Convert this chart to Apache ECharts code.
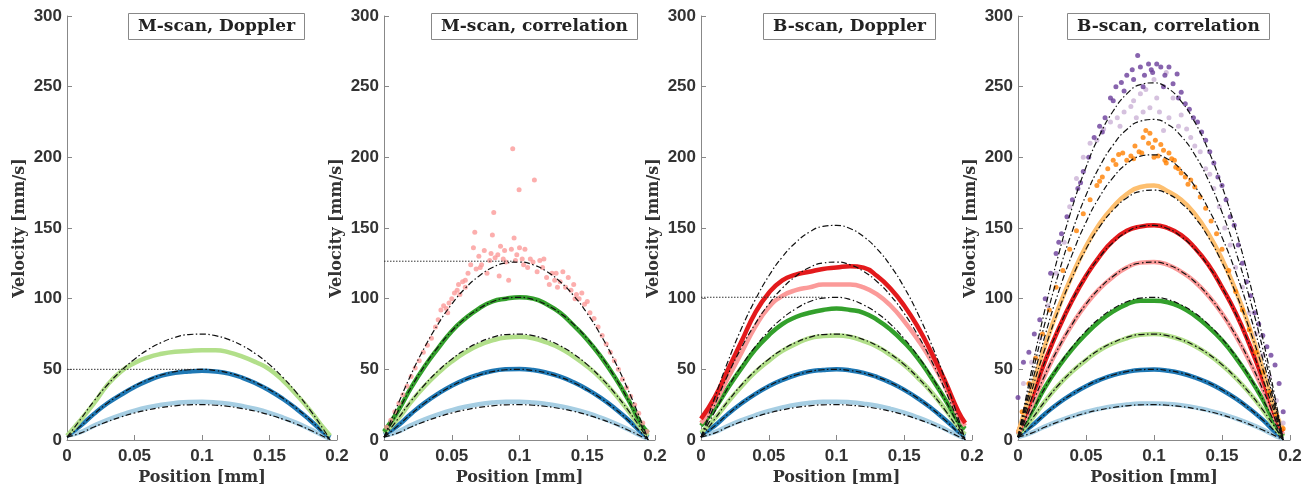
<!DOCTYPE html>
<html><head><meta charset="utf-8">
<script src="https://cdn.jsdelivr.net/npm/echarts@6/dist/echarts.min.js"></script>
<style>html,body{margin:0;padding:0;background:#fff}#c{width:1316px;height:495px}</style>
</head><body><div id="c"></div>
<script>
// ---------- data ----------
const panelTitles = ['M-scan, Doppler', 'M-scan, correlation', 'B-scan, Doppler', 'B-scan, correlation'];
const xs = [0,0.01,0.02,0.03,0.04,0.05,0.06,0.07,0.08,0.09,0.1,0.11,0.12,0.13,0.14,0.15,0.16,0.17,0.18,0.19,0.195];

// theoretical profiles (dash-dot)
const T25  = [2,4.9,9.2,13.0,16.3,19.1,21.3,23.0,24.2,24.9,25.0,24.6,23.7,22.2,20.3,17.8,14.7,11.2,7.1,2.5,0];
const T50  = [2,9.8,18.4,26.1,32.6,38.2,42.6,46.0,48.4,49.7,50.0,49.2,47.4,44.5,40.5,35.5,29.5,22.4,14.2,5.0,0];
const T75  = [2,14.6,27.6,39.1,48.9,57.2,63.9,69.0,72.6,74.6,74.9,73.8,71.0,66.7,60.8,53.3,44.2,33.5,21.3,7.5,0];
const T101 = [2,19.7,37.2,52.6,65.9,77.1,86.1,92.9,97.8,100.4,100.9,99.4,95.6,89.8,81.8,71.7,59.5,45.1,28.7,10.1,0];
const T126 = [2,24.6,46.4,65.6,82.2,96.1,107.4,115.9,122.0,125.2,125.9,124.0,119.3,112.0,102.1,89.5,74.2,56.3,35.8,12.6,0];
const T152 = [2,29.6,55.9,79.2,99.1,116.0,129.5,139.8,147.1,151.1,151.8,149.6,143.9,135.1,123.1,107.9,89.5,67.9,43.2,15.2,0];
const T177 = [2,34.5,65.1,92.2,115.4,135.1,150.8,162.8,171.3,175.9,176.8,174.2,167.6,157.4,143.4,125.7,104.3,79.1,50.3,17.7,0];
const T202 = [2,39.4,74.3,105.2,131.7,154.1,172.1,185.8,195.5,200.8,201.8,198.8,191.3,179.6,163.6,143.4,119.0,90.3,57.4,20.2,0];
const T227 = [2,44.3,83.5,118.3,148.0,173.2,193.4,208.8,219.7,225.6,226.8,223.4,215.0,201.8,183.9,161.2,133.7,101.5,64.5,22.7,0];
const T253 = [2,49.3,93.1,131.8,165.0,193.0,215.6,232.8,244.9,251.5,252.7,249.0,239.6,224.9,204.9,179.6,149.0,113.1,71.9,25.3,0];

// saturation limits (dotted)
const satLimit = [50, 126.5, 101, null];
const satEndX  = [0.093, 0.097, 0.091, null];

// panel 1: M-scan, Doppler
const p1LightBlue  = [3,5.6,10.2,14.3,17.8,20.8,23.2,25.0,26.2,26.9,27.0,26.6,25.6,24.0,21.9,19.2,15.9,12.1,7.7,2.9,1];
const p1Blue       = [3,10,18.5,26,32,37.5,42,45.5,47.5,48.5,49,48.5,47,44,40,35,29,22,14,5.5,2];
const p1LightGreen = [3,14,26,39,48.5,54.5,58.5,61,62.5,63,63.5,63.5,62,59,55,50,42,32,21,8.5,3];

// panel 2: M-scan, correlation
const p2LightBlue  = [3,5.8,10.5,14.6,18.1,21.1,23.5,25.3,26.5,27.1,27.1,26.6,25.5,23.9,21.8,19.1,15.8,12,7.6,2.8,1];
const p2Blue       = [4,10,18.6,26.3,32.8,38.4,42.9,46.3,48.8,50,50.3,49.5,47.6,44.8,40.8,35.8,29.8,22.7,14.5,5.5,2];
const p2LightGreen = [5,14.5,27,38,47.5,55.5,62,67,70.5,72.5,73,72,69,65,59,52,43.5,33,21,8,3];
const p2Green      = [6,20,37,52,65,77,86,93,98,100,101,100,96,90,81,71,59,45,29,11,5];
const p2Pink = [[0.002,9],[0.005,14],[0.008,20],[0.011,26],[0.014,32],[0.017,38],[0.02,45],[0.023,51],[0.026,56],[0.029,62],
  [0.032,67],[0.035,72],[0.038,80],[0.04,85],[0.042,92],[0.044,95],[0.046,93],[0.048,97],[0.05,100],[0.052,104],
  [0.054,106],[0.056,103],[0.058,112],[0.06,113],[0.062,118],[0.064,124],[0.066,136],[0.067,147],[0.068,121],[0.07,130],
  [0.072,124],[0.074,134],[0.076,118],[0.078,127],[0.08,145],[0.081,161],[0.082,129],[0.084,131],[0.085,116],[0.086,137],
  [0.088,128],[0.09,126],[0.092,113],[0.094,135],[0.095,206],[0.096,143],[0.097,127],[0.098,131],[0.0997,177],[0.1,136],
  [0.102,128],[0.104,135],[0.106,122],[0.108,128],[0.11,126],[0.111,184],[0.113,119],[0.115,127],[0.117,122],[0.12,115],
  [0.122,110],[0.124,118],[0.126,113],[0.128,108],[0.13,112],[0.132,119],[0.134,108],[0.136,115],[0.138,106],[0.14,110],
  [0.142,103],[0.144,100],[0.146,104],[0.148,96],[0.15,98],[0.152,90],[0.155,86],[0.158,80],[0.161,74],[0.164,68],
  [0.167,62],[0.17,56],[0.173,50],[0.176,43],[0.179,37],[0.182,31],[0.185,25],[0.188,19],[0.191,12],[0.194,6],
  [0.06,108],[0.071,122],[0.079,132],[0.089,134],[0.103,124],[0.118,128],[0.127,118],[0.141,100],[0.047,90],[0.055,110]];

// panel 3: B-scan, Doppler
const p3LightBlue  = [3,5.5,10,14,17.5,20.5,23,25,26.3,27,27.1,26.7,25.7,24.2,22,19.3,16,12.2,7.8,3,1];
const p3Blue       = [4,10,18.5,26,32.5,38,42.5,46,48.5,49.5,50,49.3,47.5,44.5,40.5,35.5,29.5,22.5,14.5,6,3];
const p3LightGreen = [5,15,27,38,48,56,63,68,72,73.5,74,73,70,66,60,53,44,34,22,9,4];
const p3Green      = [10,22,37,51,64,74,82,87,90,92,93,92,90,85,78,69,58,44,29,13,8];
const p3Pink       = [12,26,44,62,80,94,102,106,108,110,110,110,108,103,95,84,71,56,38,17,10];
const p3Red        = [15,30,50,70,90,104,113,117,119,121,122,123,122,116,107,95,80,62,42,20,12];

// panel 4: B-scan, correlation
const p4LightBlue   = [2,5.2,9.6,13.5,16.9,19.8,22.1,23.9,25.1,25.8,25.9,25.5,24.6,23.1,21,18.4,15.3,11.6,7.4,2.6,1];
const p4Blue        = [3,10,18.6,26.2,32.6,38.1,42.5,45.9,48.2,49.5,49.8,49,47.2,44.3,40.4,35.4,29.4,22.3,14.2,5,2];
const p4LightGreen  = [3,14.6,27.6,39,48.5,56.5,63.5,68.5,72,74.5,75,73.8,71,66.5,60.5,53,44,33.5,21.3,7.5,2];
const p4Green       = [4,20,37.5,52,64.5,75,84,91,96,98.5,98.5,97.5,94,88,80,70.5,58.5,44.5,28.5,10,3];
const p4Pink        = [4,24.6,46.4,65.6,82,96,107,115.5,122,125.5,126,124,119,112,102,89.5,74,56,36,13,4];
const p4Red         = [5,30,56,79,99,116,130,141,148,151,152,150,145,136,124,108,90,68,43,15,6];
const p4LightOrange = [5,36,67,94,117,137,153,165,174,179,180,176,170,160,146,128,106,80,50,18,8];
const p4Orange = [[0.003,20],[0.008,40],[0.013,58],[0.018,75],[0.023,92],[0.028,108],[0.033,120],[0.038,135],[0.043,148],[0.048,160],
  [0.053,170],[0.058,180],[0.062,186],[0.066,192],[0.07,198],[0.074,202],[0.077,203],[0.08,198],[0.083,201],[0.086,208],
  [0.089,204],[0.092,214],[0.094,219],[0.096,210],[0.097,217],[0.099,207],[0.101,212],[0.103,201],[0.105,209],[0.107,205],
  [0.109,196],[0.111,203],[0.113,199],[0.115,198],[0.118,192],[0.12,189],[0.123,186],[0.127,184],[0.13,179],[0.134,172],
  [0.138,164],[0.142,155],[0.146,146],[0.15,135],[0.155,120],[0.16,105],[0.165,92],[0.17,78],[0.175,62],[0.18,48],
  [0.185,34],[0.19,18],[0.195,8],[0.06,183],[0.072,195],[0.085,199],[0.091,203],[0.1,200],[0.108,198],[0.116,193],[0.125,181]];
const p4LightPurple = [[0.004,40],[0.01,55],[0.016,72],[0.022,95],[0.028,118],[0.034,140],[0.038,165],[0.043,185],[0.048,200],[0.053,210],
  [0.058,212],[0.063,220],[0.068,225],[0.073,228],[0.078,232],[0.083,236],[0.087,228],[0.09,245],[0.094,248],[0.097,235],
  [0.1,255],[0.104,232],[0.107,219],[0.109,260],[0.111,228],[0.114,242],[0.118,222],[0.12,230],[0.124,220],[0.127,214],
  [0.13,208],[0.134,204],[0.138,192],[0.141,188],[0.144,178],[0.148,165],[0.152,150],[0.156,138],[0.16,122],[0.165,108],
  [0.17,90],[0.175,75],[0.18,60],[0.185,45],[0.19,28],[0.195,12],[0.075,222],[0.085,240],[0.092,232],[0.102,242]];
const p4Purple = [[0.0,30],[0.004,55],[0.008,62],[0.012,75],[0.016,85],[0.02,100],[0.024,118],[0.028,132],[0.032,146],[0.036,158],
  [0.04,170],[0.044,178],[0.048,190],[0.052,200],[0.056,214],[0.06,222],[0.064,228],[0.068,242],[0.072,250],[0.076,253],
  [0.08,258],[0.084,262],[0.088,272],[0.09,264],[0.093,258],[0.096,266],[0.099,260],[0.102,266],[0.105,264],[0.108,258],
  [0.111,264],[0.114,252],[0.117,259],[0.12,246],[0.123,238],[0.126,234],[0.129,228],[0.132,225],[0.135,218],[0.138,212],
  [0.141,204],[0.144,196],[0.147,186],[0.15,180],[0.153,170],[0.156,158],[0.159,152],[0.162,138],[0.165,125],[0.168,112],
  [0.171,102],[0.174,90],[0.177,82],[0.18,74],[0.183,66],[0.186,60],[0.189,53],[0.192,40],[0.195,20],
  [0.085,255],[0.092,250],[0.098,262],[0.107,250],[0.118,242],[0.078,247],[0.07,240],[0.062,218],[0.046,182],[0.03,140]];

// ---------- colours ----------
const C = {lightBlue:'#a6cee3', blue:'#1f78b4', lightGreen:'#b2df8a', green:'#33a02c', pink:'#fb9a99',
  red:'#e31a1c', lightOrange:'#fdbf6f', orange:'#ff7f00', lightPurple:'#cab2d6', purple:'#6a3d9a'};

const panels = [
  {left:67, width:270, titleLeft:128, bands:[[p1LightBlue,C.lightBlue],[p1Blue,C.blue],[p1LightGreen,C.lightGreen]], dots:[], theory:[T25,T50,T75]},
  {left:384, width:271, titleLeft:431, bands:[[p2LightBlue,C.lightBlue],[p2Blue,C.blue],[p2LightGreen,C.lightGreen],[p2Green,C.green]], dots:[[p2Pink,C.pink]], theory:[T25,T50,T75,T101,T126]},
  {left:701, width:271, titleLeft:763, bands:[[p3LightBlue,C.lightBlue],[p3Blue,C.blue],[p3LightGreen,C.lightGreen],[p3Green,C.green],[p3Pink,C.pink],[p3Red,C.red]], dots:[], theory:[T25,T50,T75,T101,T126,T152]},
  {left:1018, width:272, titleLeft:1067, bands:[[p4LightBlue,C.lightBlue],[p4Blue,C.blue],[p4LightGreen,C.lightGreen],[p4Green,C.green],[p4Pink,C.pink],[p4Red,C.red],[p4LightOrange,C.lightOrange]], dots:[[p4Orange,C.orange],[p4LightPurple,C.lightPurple],[p4Purple,C.purple]], theory:[T25,T50,T75,T101,T126,T152,T177,T202,T227,T253]}
];

// ---------- option ----------
const TOP = 16, H = 424;
const grid = [], xAxis = [], yAxis = [], series = [], title = [];
const labelFont = {color:'#333', fontFamily:'Liberation Sans, Arial, sans-serif', fontWeight:'bold', fontSize:17};
const nameFont = {color:'#333', fontFamily:'DejaVu Serif, serif', fontWeight:'bold', fontSize:16};
const axLine = {show:true, lineStyle:{color:'#888', width:1}};

panels.forEach((p, i) => {
  grid.push({left:p.left, top:TOP, width:p.width, height:H});
  xAxis.push({type:'value', gridIndex:i, min:0, max:0.2, interval:0.05,
    name:'Position [mm]', nameLocation:'middle', nameGap:27, nameTextStyle:nameFont,
    axisLine:axLine, axisTick:{show:true, inside:true, length:5, lineStyle:{color:'#888'}},
    splitLine:{show:false}, axisLabel:{...labelFont, margin:8}});
  yAxis.push({type:'value', gridIndex:i, min:0, max:300, interval:50,
    name:'Velocity [mm/s]', nameLocation:'middle', nameGap:39, nameTextStyle:nameFont,
    axisLine:axLine, axisTick:{show:true, inside:true, length:5, lineStyle:{color:'#888'}},
    splitLine:{show:false}, axisLabel:{...labelFont, margin:5}});
  title.push({text:panelTitles[i], left:p.titleLeft, top:13, padding:[5,10],
    borderColor:'#888', borderWidth:1, backgroundColor:'#fff',
    textStyle:{color:'#222', fontFamily:'DejaVu Serif, serif', fontWeight:'bold', fontSize:17}});
  p.bands.forEach(([ys, col]) => series.push({type:'line', xAxisIndex:i, yAxisIndex:i, symbol:'none', smooth:true,
    data: xs.map((x, k) => [x, ys[k]]), lineStyle:{color:col, width:4.5}, z:2, silent:true}));
  p.dots.forEach(([pts, col]) => series.push({type:'scatter', xAxisIndex:i, yAxisIndex:i, symbolSize:5,
    data: pts, itemStyle:{color:col}, z:3, silent:true}));
  p.theory.forEach(ys => series.push({type:'line', xAxisIndex:i, yAxisIndex:i, symbol:'none', smooth:true,
    data: xs.map((x, k) => [x, ys[k]]), lineStyle:{color:'#111', width:1.2, type:[6,2.5,1.5,2.5]}, z:5, silent:true}));
  if (satLimit[i] != null) series.push({type:'line', xAxisIndex:i, yAxisIndex:i, symbol:'none',
    data:[[0, satLimit[i]], [satEndX[i], satLimit[i]]], lineStyle:{color:'#333', width:1, type:[1.5,1.5]}, z:6, silent:true});
});

const chart = echarts.init(document.getElementById('c'), null, {renderer:'canvas'});
chart.setOption({animation:false, backgroundColor:'#fff', title, grid, xAxis, yAxis, series});
</script></body></html>
